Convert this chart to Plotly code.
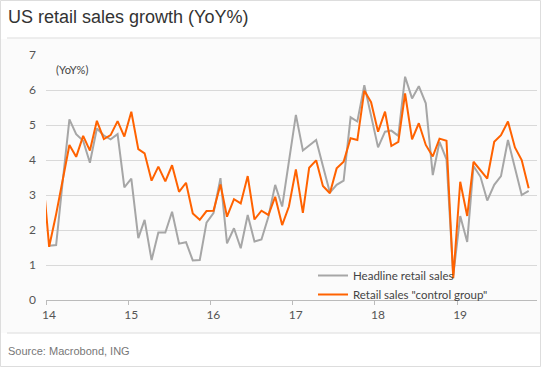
import pandas as pd
import plotly.graph_objects as go

# ---- data ----
control_start = "2013-12-01"
control_group = [3.8,
    1.52, 2.45, 3.43, 4.43, 4.09, 4.69, 4.27, 5.12, 4.60, 4.71, 5.11, 4.67,
    5.38, 4.31, 4.19, 3.41, 3.81, 3.39, 3.85, 3.09, 3.35, 2.47, 2.29, 2.54,
    2.55, 3.30, 2.38, 2.88, 2.76, 3.54, 2.30, 2.55, 2.43, 2.95, 2.14, 2.67,
    3.73, 2.49, 3.78, 3.99, 3.26, 3.05, 3.76, 3.95, 4.62, 4.57, 5.98, 5.65,
    4.81, 5.38, 4.40, 4.52, 5.90, 4.59, 5.05, 4.43, 4.10, 4.61, 4.55, 0.62,
    3.38, 2.40, 3.95, 3.71, 3.47, 4.52, 4.71, 5.10, 4.36, 4.00, 3.19]

headline_start = "2014-01-01"
headline = [
    1.55, 1.57, 3.32, 5.16, 4.74, 4.55, 3.92, 4.90, 4.70, 4.59, 4.74, 3.22,
    3.47, 1.77, 2.29, 1.14, 1.93, 1.93, 2.52, 1.61, 1.65, 1.13, 1.14, 2.21,
    2.48, 3.48, 1.62, 2.05, 1.48, 2.43, 1.67, 1.73, 2.38, 3.29, 2.67, 3.95,
    5.29, 4.27, 4.40, 4.57, 3.83, 3.07, 3.29, 3.41, 5.22, 5.10, 6.14, 5.24,
    4.36, 4.81, 4.84, 4.69, 6.38, 5.76, 6.11, 5.62, 3.57, 4.52, 4.02, 0.70,
    2.40, 1.66, 3.83, 3.52, 2.84, 3.29, 3.54, 4.57, 3.76, 3.00, 3.12]

year_ticks = ["2014-01-01", "2015-01-01", "2016-01-01", "2017-01-01", "2018-01-01", "2019-01-01"]
year_labels = ["14", "15", "16", "17", "18", "19"]
y_ticks = [0, 1, 2, 3, 4, 5, 6, 7]


def mid_month(start, n):
    return pd.date_range(start=start, periods=n, freq="MS") + pd.Timedelta(days=14)


x_control = mid_month(control_start, len(control_group))
x_headline = mid_month(headline_start, len(headline))

W, H = 541, 367
L, R, T, B = 46, 4, 55, 67
PW, PH = W - L - R, H - T - B


def px_x(px):
    return (px - L) / PW


def px_y(py):
    return (H - B - py) / PH


GRAY = "#a6a6a6"
ORANGE = "#ff6200"
FONT = "Lato"

fig = go.Figure()
fig.add_trace(go.Scatter(x=x_headline, y=headline, mode="lines",
                         name="Headline retail sales",
                         line=dict(color=GRAY, width=2)))
fig.add_trace(go.Scatter(x=x_control, y=control_group, mode="lines",
                         name='Retail sales "control group"',
                         line=dict(color=ORANGE, width=2)))

shapes = [
    dict(type="rect", xref="paper", yref="paper", x0=px_x(0.5), x1=px_x(W - 0.5),
         y0=px_y(H - 0.5), y1=px_y(0.5), line=dict(color="#dddddd", width=1),
         fillcolor="rgba(0,0,0,0)", layer="below"),
    dict(type="rect", xref="paper", yref="paper", x0=px_x(1), x1=px_x(W - 1),
         y0=px_y(333), y1=px_y(39), line=dict(width=0), fillcolor="#fbfbfb",
         layer="below"),
    dict(type="line", xref="paper", yref="paper", x0=px_x(7), x1=px_x(W - 1),
         y0=px_y(38), y1=px_y(38), line=dict(color="#dcdcdc", width=1)),
    dict(type="line", xref="paper", yref="paper", x0=px_x(7), x1=px_x(W - 1),
         y0=px_y(333), y1=px_y(333), line=dict(color="#dcdcdc", width=1)),
]

annotations = [
    dict(text="US retail sales growth (YoY%)", xref="paper", yref="paper",
         x=px_x(6), y=px_y(17), xanchor="left", yanchor="middle", showarrow=False,
         font=dict(family="Liberation Sans, Arial", size=18, color="#333333")),
    dict(text="Source: Macrobond, ING", xref="paper", yref="paper",
         x=px_x(6), y=px_y(351), xanchor="left", yanchor="middle", showarrow=False,
         font=dict(family="Liberation Sans, Arial", size=11, color="#777777")),
    dict(text="(YoY%)", xref="paper", yref="paper",
         x=px_x(54), y=px_y(69), xanchor="left", yanchor="middle", showarrow=False,
         font=dict(family=FONT, size=11, color="#444444")),
]

fig.update_layout(
    width=W, height=H,
    margin=dict(l=L, r=R, t=T, b=B, autoexpand=False),
    paper_bgcolor="white",
    plot_bgcolor="rgba(0,0,0,0)",
    font=dict(family=FONT, size=12, color="#555555"),
    showlegend=True,
    legend=dict(x=px_x(313), y=px_y(261), xanchor="left", yanchor="top",
                bgcolor="rgba(0,0,0,0)", font=dict(family=FONT, size=11.5, color="#444444"),
                tracegroupgap=0),
    shapes=shapes,
    annotations=annotations,
)
fig.update_xaxes(
    range=["2014-01-01", "2019-12-22"],
    tickvals=year_ticks, ticktext=year_labels,
    showgrid=False, zeroline=False, automargin=False,
    showline=True, linecolor="#bbbbbb", linewidth=1,
    ticks="outside", ticklen=4, tickcolor="#bbbbbb",
    ticklabelshift=3,
    tickfont=dict(family=FONT, size=12, color="#555555"),
)
fig.update_yaxes(
    range=[0, 7], tickvals=y_ticks,
    showgrid=True, gridcolor="#d9d9d9", gridwidth=1,
    zeroline=False, showline=False, automargin=False,
    ticks="", ticklabelstandoff=9,
    tickfont=dict(family=FONT, size=12, color="#555555"),
)

fig.write_html("out.html",
               config={"displayModeBar": False},
               post_script="document.body.style.margin='0';document.body.style.overflow='hidden';")
